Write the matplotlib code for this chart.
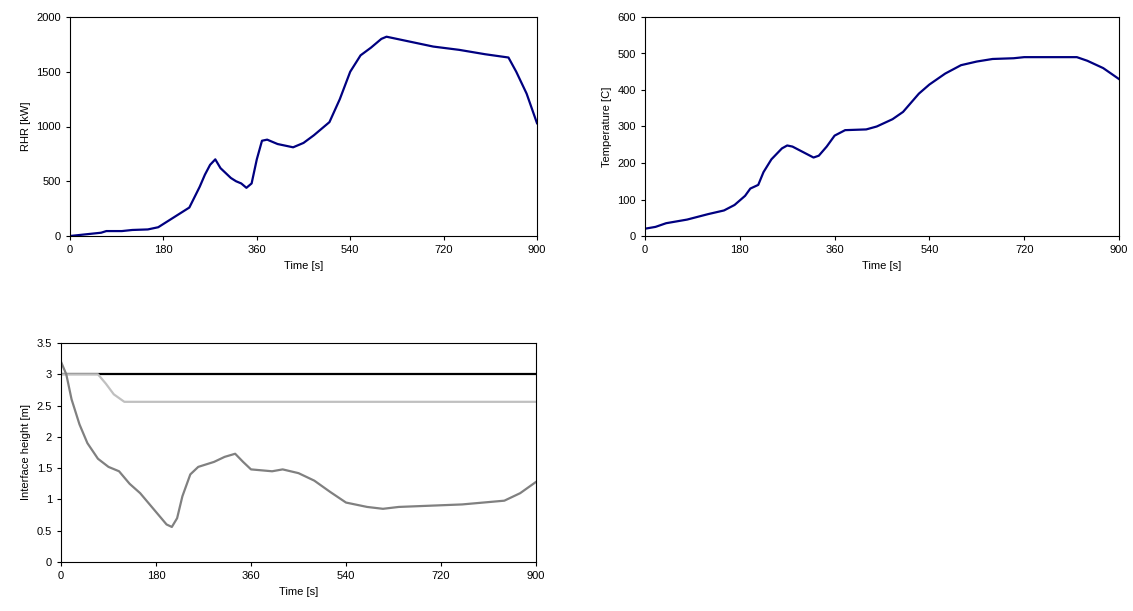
import matplotlib.pyplot as plt

plt.rcParams['font.family'] = ['Liberation Sans', 'DejaVu Sans']
plt.rcParams['font.size'] = 8

# RHR [kW]
rhr_t = [0, 20, 40, 60, 70, 100, 120, 150, 170, 190, 210, 230, 250, 260, 270, 280, 290, 310, 320, 330,
         340, 350, 360, 370, 380, 400, 430, 450, 470, 490, 500, 520, 540, 560, 580, 600, 610, 620, 650,
         700, 750, 800, 830, 845, 860, 880, 900]
rhr = [0, 10, 20, 30, 45, 45, 55, 60, 80, 140, 200, 260, 450, 560, 650, 700, 620, 530, 500, 480,
       440, 480, 700, 870, 880, 840, 810, 850, 920, 1000, 1040, 1250, 1500, 1650, 1720, 1800, 1820, 1810, 1780,
       1730, 1700, 1660, 1640, 1630, 1500, 1300, 1030]

# Temperature [C]
temp_t = [0, 20, 40, 80, 120, 150, 170, 190, 200, 215, 225, 240, 260, 270, 280, 300, 320, 330, 345, 360,
          380, 420, 440, 470, 490, 520, 540, 570, 600, 630, 660, 700, 720, 820, 840, 870, 900]
temp = [20, 25, 35, 45, 60, 70, 85, 110, 130, 140, 175, 210, 240, 248, 245, 230, 215, 220, 245, 275,
        290, 292, 300, 320, 340, 390, 415, 445, 468, 478, 485, 487, 490, 490, 480, 460, 430]

# Interface height [m]
ref_t = [0, 900]
ref_h = [3.0, 3.0]
light_t = [0, 70, 85, 100, 120, 900]
light_h = [3.0, 3.0, 2.85, 2.68, 2.56, 2.56]
dark_t = [0, 10, 20, 35, 50, 70, 90, 110, 130, 150, 170, 190, 200, 210, 220, 230, 245, 260, 290, 310,
          330, 345, 360, 400, 420, 450, 480, 510, 540, 580, 610, 640, 700, 760, 800, 840, 870, 900]
dark_h = [3.2, 3.0, 2.6, 2.2, 1.9, 1.65, 1.52, 1.45, 1.25, 1.1, 0.9, 0.7, 0.6, 0.56, 0.7, 1.05, 1.4, 1.52, 1.6, 1.68,
          1.73, 1.6, 1.48, 1.45, 1.48, 1.42, 1.3, 1.12, 0.95, 0.88, 0.85, 0.88, 0.9, 0.92, 0.95, 0.98, 1.1, 1.28]

xticks = [0, 180, 360, 540, 720, 900]
navy = '#000080'

fig = plt.figure(figsize=(11.33, 6.11), dpi=100)
ax1 = fig.add_axes([70/1133, 1-236/611, 467/1133, 219/611])
ax2 = fig.add_axes([645/1133, 1-236/611, 474/1133, 219/611])
ax3 = fig.add_axes([61/1133, 1-562/611, 475/1133, 219/611])

ax1.plot(rhr_t, rhr, color=navy, lw=1.6)
ax1.set_ylim(0, 2000)
ax1.set_yticks(range(0, 2001, 500))
ax1.set_ylabel('RHR [kW]')

ax2.plot(temp_t, temp, color=navy, lw=1.6)
ax2.set_ylim(0, 600)
ax2.set_yticks(range(0, 601, 100))
ax2.set_ylabel('Temperature [C]')

ax3.plot(ref_t, ref_h, color='black', lw=1.6)
ax3.plot(light_t, light_h, color='#c0c0c0', lw=1.6)
ax3.plot(dark_t, dark_h, color='#808080', lw=1.6)
ax3.set_ylim(0, 3.5)
ax3.set_yticks([0, 0.5, 1, 1.5, 2, 2.5, 3, 3.5])
ax3.set_yticklabels(['0', '0.5', '1', '1.5', '2', '2.5', '3', '3.5'])
ax3.set_ylabel('Interface height [m]')

for ax in (ax1, ax2, ax3):
    ax.set_xlim(0, 900)
    ax.set_xticks(xticks)
    ax.set_xlabel('Time [s]')
    ax.tick_params(length=3, width=0.8)
    for s in ax.spines.values():
        s.set_linewidth(0.8)

plt.savefig('out.png', dpi=100)
